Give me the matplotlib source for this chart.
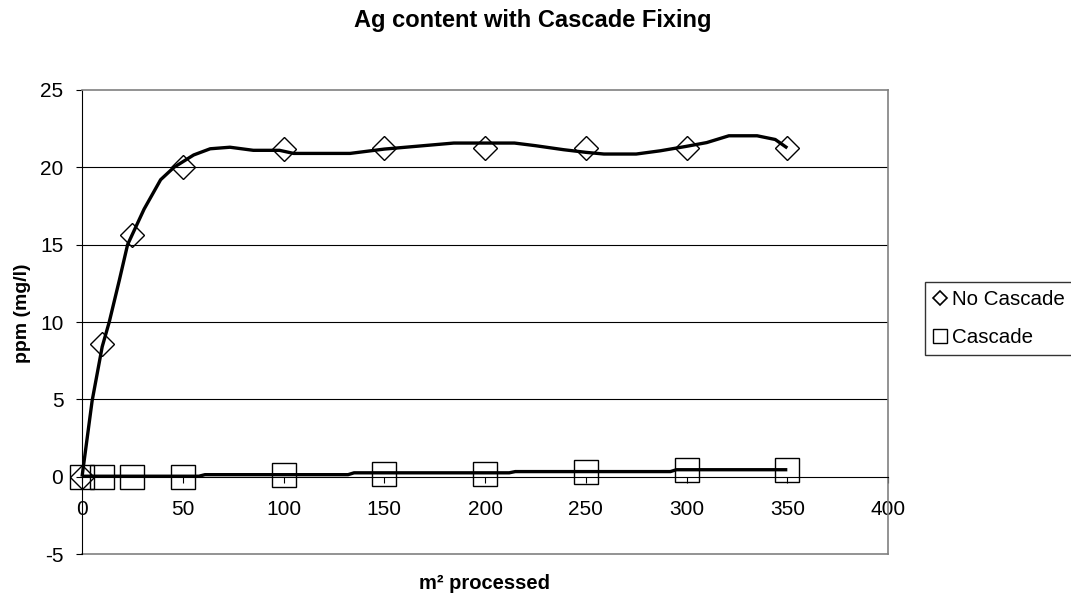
import numpy as np
import matplotlib
matplotlib.use("Agg")
import matplotlib.pyplot as plt
from matplotlib.lines import Line2D

plt.rcParams['font.family'] = ['Liberation Sans', 'DejaVu Sans']
plt.rcParams['axes.unicode_minus'] = False

#measured points (markers)
x_points = [0, 10, 25, 50, 100, 150, 200, 250, 300, 350]
no_cascade = [0, 8.6, 15.6, 20.0, 21.2, 21.25, 21.25, 21.25, 21.25, 21.25]
cascade = [0, 0, 0, 0, 0.1, 0.2, 0.2, 0.3, 0.4, 0.4]

#smoothed curves
no_cascade_curve_x = [0, 5, 10, 13.5, 18.5, 22.6, 30.8, 39, 45.6, 55.4, 63.6, 73.4,
                      85, 98, 105, 133, 150, 165, 184.5, 214.6, 225, 239, 250, 259,
                      275, 287, 299.6, 310, 321, 335, 344, 350]
no_cascade_curve_y = [0, 4.9, 8.4, 10, 12.7, 15, 17.3, 19.2, 20, 20.8, 21.2, 21.3,
                      21.1, 21.1, 20.9, 20.9, 21.18, 21.35, 21.57, 21.57, 21.4, 21.14, 20.97, 20.86,
                      20.86, 21.07, 21.35, 21.6, 22.04, 22.04, 21.8, 21.25]
cascade_curve_x = [0, 58, 61, 132, 135, 212, 215, 292, 295, 350]
cascade_curve_y = [0.03, 0.03, 0.13, 0.13, 0.25, 0.25, 0.33, 0.33, 0.45, 0.45]

x_ticks = [0, 50, 100, 150, 200, 250, 300, 350, 400]
y_ticks = [-5, 0, 5, 10, 15, 20, 25]

fig = plt.figure(figsize=(10.71, 6.02), dpi=100)
ax = fig.add_axes([0.0766, 0.0797, 0.7526, 0.7708])

#gridlines
for yv in [5, 10, 15, 20]:
    ax.axhline(yv, color="black", lw=0.8, zorder=1)
ax.axhline(-5, color="#808080", lw=1.2, zorder=1, clip_on=False)

#markers
ax.plot(x_points, no_cascade, ls="none", marker="D", ms=12.5, mfc="none", mec="black",
        mew=1, zorder=3, clip_on=False)
ax.plot(x_points, cascade, ls="none", marker="s", ms=17, mfc="none", mec="black",
        mew=1, zorder=3, clip_on=False)

#curves
ax.plot(no_cascade_curve_x, no_cascade_curve_y, color="black", lw=2.4, zorder=4,
        solid_capstyle="butt", clip_on=False)
ax.plot(cascade_curve_x, cascade_curve_y, color="black", lw=2.4, zorder=4,
        solid_capstyle="butt", clip_on=False)

ax.set_xlim(0, 400)
ax.set_ylim(-5, 25)
ax.set_xticks(x_ticks)
ax.set_yticks(y_ticks)
ax.tick_params(axis="both", labelsize=15, direction="out", length=4.5, width=0.8, color="black")
ax.tick_params(axis="x", pad=12)
ax.tick_params(axis="y", pad=9)

ax.spines["bottom"].set_position(("data", 0))
ax.spines["bottom"].set_color("black")
ax.spines["bottom"].set_linewidth(0.8)
ax.spines["left"].set_color("black")
ax.spines["left"].set_linewidth(0.8)
for s in ["top", "right"]:
    ax.spines[s].set_color("#808080")
    ax.spines[s].set_linewidth(1.2)

fig.text(0.497, 0.966, "Ag content with Cascade Fixing", ha="center", va="center",
         fontsize=17, fontweight="bold")
fig.text(0.4525, 0.03, "m² processed", ha="center", va="center", fontsize=14.5, fontweight="bold")
fig.text(0.021, 0.48, "ppm (mg/l)", ha="center", va="center", rotation=90,
         fontsize=14, fontweight="bold")

handles = [Line2D([], [], ls="none", marker="D", ms=7, mfc="none", mec="black", mew=1.2),
           Line2D([], [], ls="none", marker="s", ms=10, mfc="none", mec="black", mew=1)]
leg = fig.legend(handles, ["No Cascade", "Cascade"], loc="upper left",
                 bbox_to_anchor=(925 / 1071, 1 - 282 / 602), fontsize=14.8, frameon=True,
                 fancybox=False, edgecolor="black", handlelength=0.7, handletextpad=0.2,
                 labelspacing=0.9, borderpad=0.4, borderaxespad=0)
leg.get_frame().set_linewidth(1)

fig.savefig("out.png", dpi=100)
